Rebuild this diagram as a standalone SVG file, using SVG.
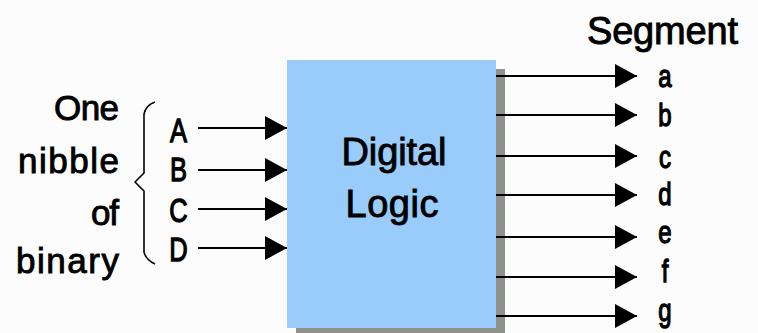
<svg xmlns="http://www.w3.org/2000/svg" width="758" height="333" viewBox="0 0 758 333">
  <defs>
    <marker id="arrow" markerUnits="userSpaceOnUse" markerWidth="22" markerHeight="24" refX="22" refY="12" orient="auto" overflow="visible">
      <path d="M0,0 L22,12 L0,24 Z" fill="#000"/>
    </marker>
    <style>
      text { font-family: "Liberation Sans", Arial, sans-serif; fill: #000; stroke: #000; stroke-width: 0.9px; }
      .big { font-size: 35px; }
      .title { font-size: 38px; }
      .pin { font-size: 34px; stroke-width: 1.3px; }
      .seg { font-size: 32px; stroke-width: 1.3px; }
      .wire { stroke: #000; stroke-width: 2; fill: none; marker-end: url(#arrow); }
      .brace { stroke: #000; stroke-width: 1.6; fill: none; stroke-linejoin: round; }
    </style>
  </defs>

  <rect width="758" height="333" fill="#fcfcfc"/>

  <!-- caption on the left with its curly brace -->
  <g id="caption">
    <text class="big" x="119" y="120" text-anchor="end" textLength="65">One</text>
    <text class="big" x="119" y="173" text-anchor="end" textLength="101">nibble</text>
    <text class="big" x="119" y="225" text-anchor="end" textLength="28">of</text>
    <text class="big" x="119" y="273" text-anchor="end" textLength="103">binary</text>
    <path class="brace" d="M155,102 Q146,105 144,114 L144,173 L135,182 L144,191 L144,252 Q146,260 155,264"/>
  </g>

  <!-- input labels -->
  <g id="inputs">
    <text class="pin" transform="translate(178.5,142) scale(0.75,1)" text-anchor="middle">A</text>
    <text class="pin" transform="translate(178.5,181) scale(0.75,1)" text-anchor="middle">B</text>
    <text class="pin" transform="translate(178.5,222) scale(0.75,1)" text-anchor="middle">C</text>
    <text class="pin" transform="translate(178.5,261) scale(0.75,1)" text-anchor="middle">D</text>
  </g>

  <!-- logic block with drop shadow -->
  <g id="logic">
    <rect x="296" y="69" width="209" height="268" fill="#8e928b"/>
    <rect x="287" y="60" width="209" height="268" fill="#99ccfb"/>
    <text class="title" x="394" y="165" text-anchor="middle" textLength="105">Digital</text>
    <text class="title" x="392" y="217" text-anchor="middle" textLength="93">Logic</text>
  </g>

  <!-- segment outputs -->
  <g id="outputs">
    <text class="title" x="587" y="44" textLength="151">Segment</text>
    <text class="seg" transform="translate(665,87) scale(0.75,1)" text-anchor="middle">a</text>
    <text class="seg" transform="translate(665,126) scale(0.75,1)" text-anchor="middle">b</text>
    <text class="seg" transform="translate(665,168) scale(0.75,1)" text-anchor="middle">c</text>
    <text class="seg" transform="translate(665,205) scale(0.75,1)" text-anchor="middle">d</text>
    <text class="seg" transform="translate(665,243) scale(0.75,1)" text-anchor="middle">e</text>
    <text class="seg" transform="translate(665,282) scale(0.75,1)" text-anchor="middle">f</text>
    <text class="seg" transform="translate(665,321) scale(0.75,1)" text-anchor="middle">g</text>
  </g>

  <!-- connectors -->
  <g id="connectors">
    <line class="wire" x1="198" y1="128" x2="287" y2="128"/>
    <line class="wire" x1="198" y1="170" x2="287" y2="170"/>
    <line class="wire" x1="198" y1="209" x2="287" y2="209"/>
    <line class="wire" x1="198" y1="248" x2="287" y2="248"/>

    <line class="wire" x1="496" y1="76" x2="637" y2="76"/>
    <line class="wire" x1="496" y1="115" x2="637" y2="115"/>
    <line class="wire" x1="496" y1="156" x2="637" y2="156"/>
    <line class="wire" x1="496" y1="195" x2="637" y2="195"/>
    <line class="wire" x1="496" y1="237" x2="637" y2="237"/>
    <line class="wire" x1="496" y1="277" x2="637" y2="277"/>
    <line class="wire" x1="496" y1="316" x2="637" y2="316"/>
  </g>
</svg>
